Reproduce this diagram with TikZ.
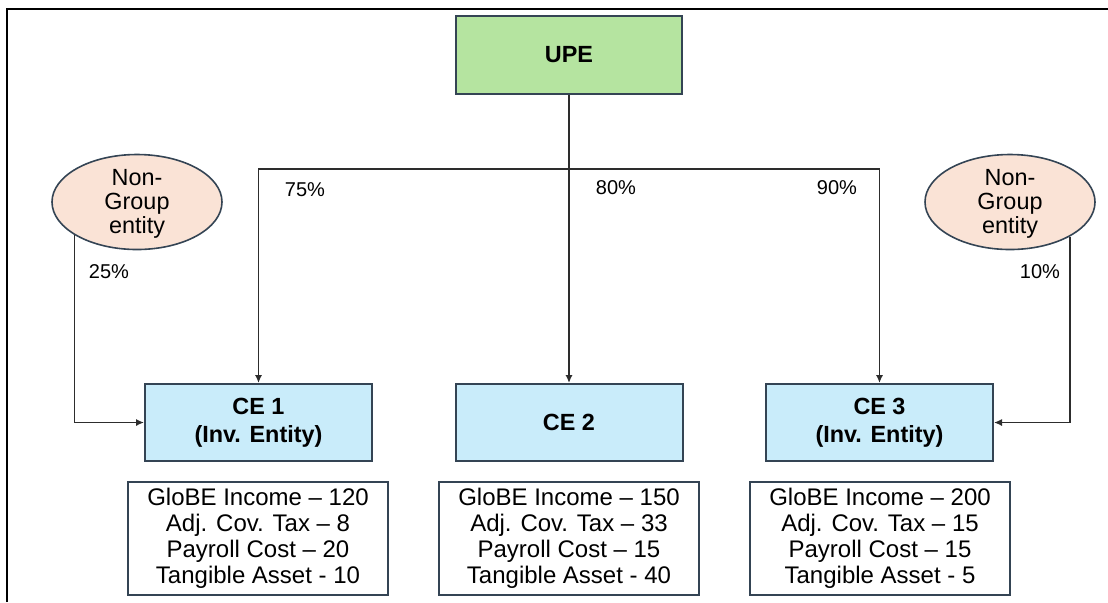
\documentclass[tikz,border=0pt]{standalone}
\usepackage{fontspec}
\setmainfont{Liberation Sans}
\usetikzlibrary{arrows.meta,shapes.geometric}
\definecolor{upegreen}{RGB}{181,228,160}
\definecolor{ceblue}{RGB}{201,236,250}
\definecolor{peach}{RGB}{250,227,214}
\definecolor{edgeslate}{RGB}{52,68,84}
\definecolor{linegray}{RGB}{45,45,45}
\tikzset{
  boxbase/.style={draw=edgeslate, line width=1pt, align=center, inner sep=0pt},
  upebox/.style={boxbase, fill=upegreen, minimum width=113pt, minimum height=39pt, font=\fontsize{11.7}{13.5}\selectfont\bfseries},
  cebox/.style={boxbase, fill=ceblue, minimum width=113.5pt, minimum height=38.5pt, font=\fontsize{11.7}{13.8}\selectfont\bfseries},
  infobox/.style={boxbase, fill=white, minimum width=130pt, minimum height=56.5pt, font=\fontsize{12}{13}\selectfont},
  ngshape/.style={ellipse, draw=edgeslate, line width=0.8pt, fill=peach, inner sep=0pt, minimum width=85pt, minimum height=47.5pt},
  ngtext/.style={align=center, inner sep=0pt, font=\fontsize{11.7}{12}\selectfont},
  pct/.style={inner sep=0pt, font=\fontsize{10}{12}\selectfont},
  conn/.style={draw=linegray, line width=0.75pt},
  arr/.style={conn, -{Latex[length=4pt,width=3.6pt]}},
}
\begin{document}
\begin{tikzpicture}[x=0.5pt,y=-0.5pt]
\useasboundingbox (0,0) rectangle (1108,602);
% frame
\draw[black, line width=1.2pt] (7,602) -- (7,9) -- (1108,9);

% nodes
\node[upebox] (upe) at (569,55) {UPE};
\node[cebox] (ce1) at (258.5,422.5) {CE 1\\(Inv. Entity)};
\node[cebox] (ce2) at (569,422.5) {CE 2};
\node[cebox] (ce3) at (879.5,422.5) {CE 3\\(Inv. Entity)};

\node[ngshape] (ng1) at (137,202) {};
\node[ngtext] (ng1t) at (137,204) {Non-\\Group\\entity};
\node[ngshape] (ng2) at (1010,202) {};
\node[ngtext] (ng2t) at (1010,204) {Non-\\Group\\entity};

\node[infobox] (info1) at (258,538.5) {GloBE Income – 120\\Adj. Cov. Tax – 8\\Payroll Cost – 20\\Tangible Asset - 10};
\node[infobox] (info2) at (569,538.5) {GloBE Income – 150\\Adj. Cov. Tax – 33\\Payroll Cost – 15\\Tangible Asset - 40};
\node[infobox] (info3) at (880,538.5) {GloBE Income – 200\\Adj. Cov. Tax – 15\\Payroll Cost – 15\\Tangible Asset - 5};

% connectors
\coordinate (junc) at (569,169);
\draw[conn] (upe.south) -- (junc);
\draw[arr] (junc) -| (ce1.north);
\draw[arr] (junc) -- (ce2.north);
\draw[arr] (junc) -| (ce3.north);
\draw[arr] (ng1.208.8) |- (ce1.west);
\draw[arr] (ng2.330.8) |- (ce3.east);

% percentages
\node[pct] (p75) at (305,190) {75\%};
\node[pct] (p80) at (616,188) {80\%};
\node[pct] (p90) at (837,188) {90\%};
\node[pct] (p25) at (109,272) {25\%};
\node[pct] (p10) at (1040,272) {10\%};
\end{tikzpicture}
\end{document}
